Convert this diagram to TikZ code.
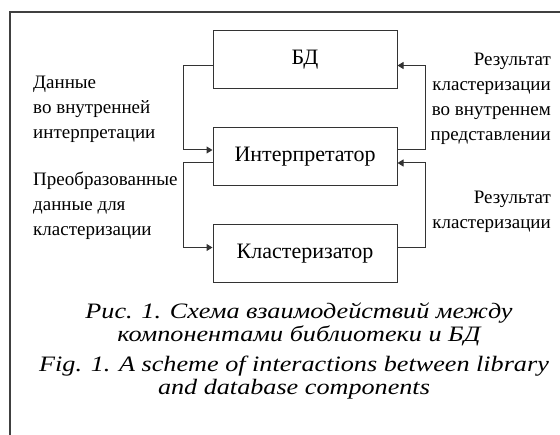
\documentclass[tikz,border=0pt]{standalone}
\usepackage{fontspec}
\setmainfont{Liberation Serif}
\newfontfamily\capfont[FakeStretch=1.19]{Liberation Serif}
\usepackage{tikz}
\usetikzlibrary{positioning,arrows.meta,calc}

\begin{document}
\begin{tikzpicture}[x=1pt,y=-1pt]
            \useasboundingbox (0,0) rectangle (560,435);
            \draw[line width=1.4pt,black!75] (10,435) -- (10,12) -- (560,12);

            \begin{scope}[every node/.style={rectangle,draw=black!80,line width=1pt,minimum width=184pt,minimum height=58pt,inner sep=0pt,font=\fontsize{22}{24}\selectfont}]
                \node (bd) at (305,59.5) {БД};
                \node (interp) at (305,156.5) {Интерпретатор};
                \node (klast) at (305,253.5) {Кластеризатор};
            \end{scope}

            \begin{scope}[>={Triangle[length=6pt,width=7pt]},
                          every path/.style={draw=black!80,line width=1pt}]
                \draw [->] ([yshift=-6pt]bd.west) -- ++(-29,0) |- ([yshift=6.5pt]interp.west);
                \draw [->] ([yshift=-6.5pt]interp.west) -- ++(-29,0) |- ([yshift=6pt]klast.west);
                \draw [->] ([yshift=6.5pt]interp.east) -- ++(28,0) |- ([yshift=-6pt]bd.east);
                \draw [->] ([yshift=6pt]klast.east) -- ++(28,0) |- ([yshift=-6.5pt]interp.east);
            \end{scope}

            \begin{scope}[every node/.style={inner sep=0pt,font={\fontsize{19}{25}\selectfont\lineskiplimit=-20pt}}]
                \node[anchor=base west,align=left] (ldata) at (33,139) {Данные\\во внутренней\\интерпретации};
                \node[anchor=base west,align=left] (lconv) at (33,236) {Преобразованные\\данные для\\кластеризации};
                \node[anchor=base east,align=right] (rint) at (551,141) {Результат\\кластеризации\\во внутреннем\\представлении};
                \node[anchor=base east,align=right] (rres) at (551,229) {Результат\\кластеризации};
            \end{scope}

            \begin{scope}[every node/.style={inner sep=0pt,align=center,font={\capfont\fontsize{22}{23}\selectfont\itshape\lineskiplimit=-20pt}}]
                \node[anchor=base] (capru) at (299,342) {Рис. 1. Схема взаимодействий между\\компонентами библиотеки и БД};
                \node[anchor=base] (capen) at (294,395) {Fig. 1. A scheme of interactions between library\\and database components};
            \end{scope}
        \end{tikzpicture}
\end{document}
